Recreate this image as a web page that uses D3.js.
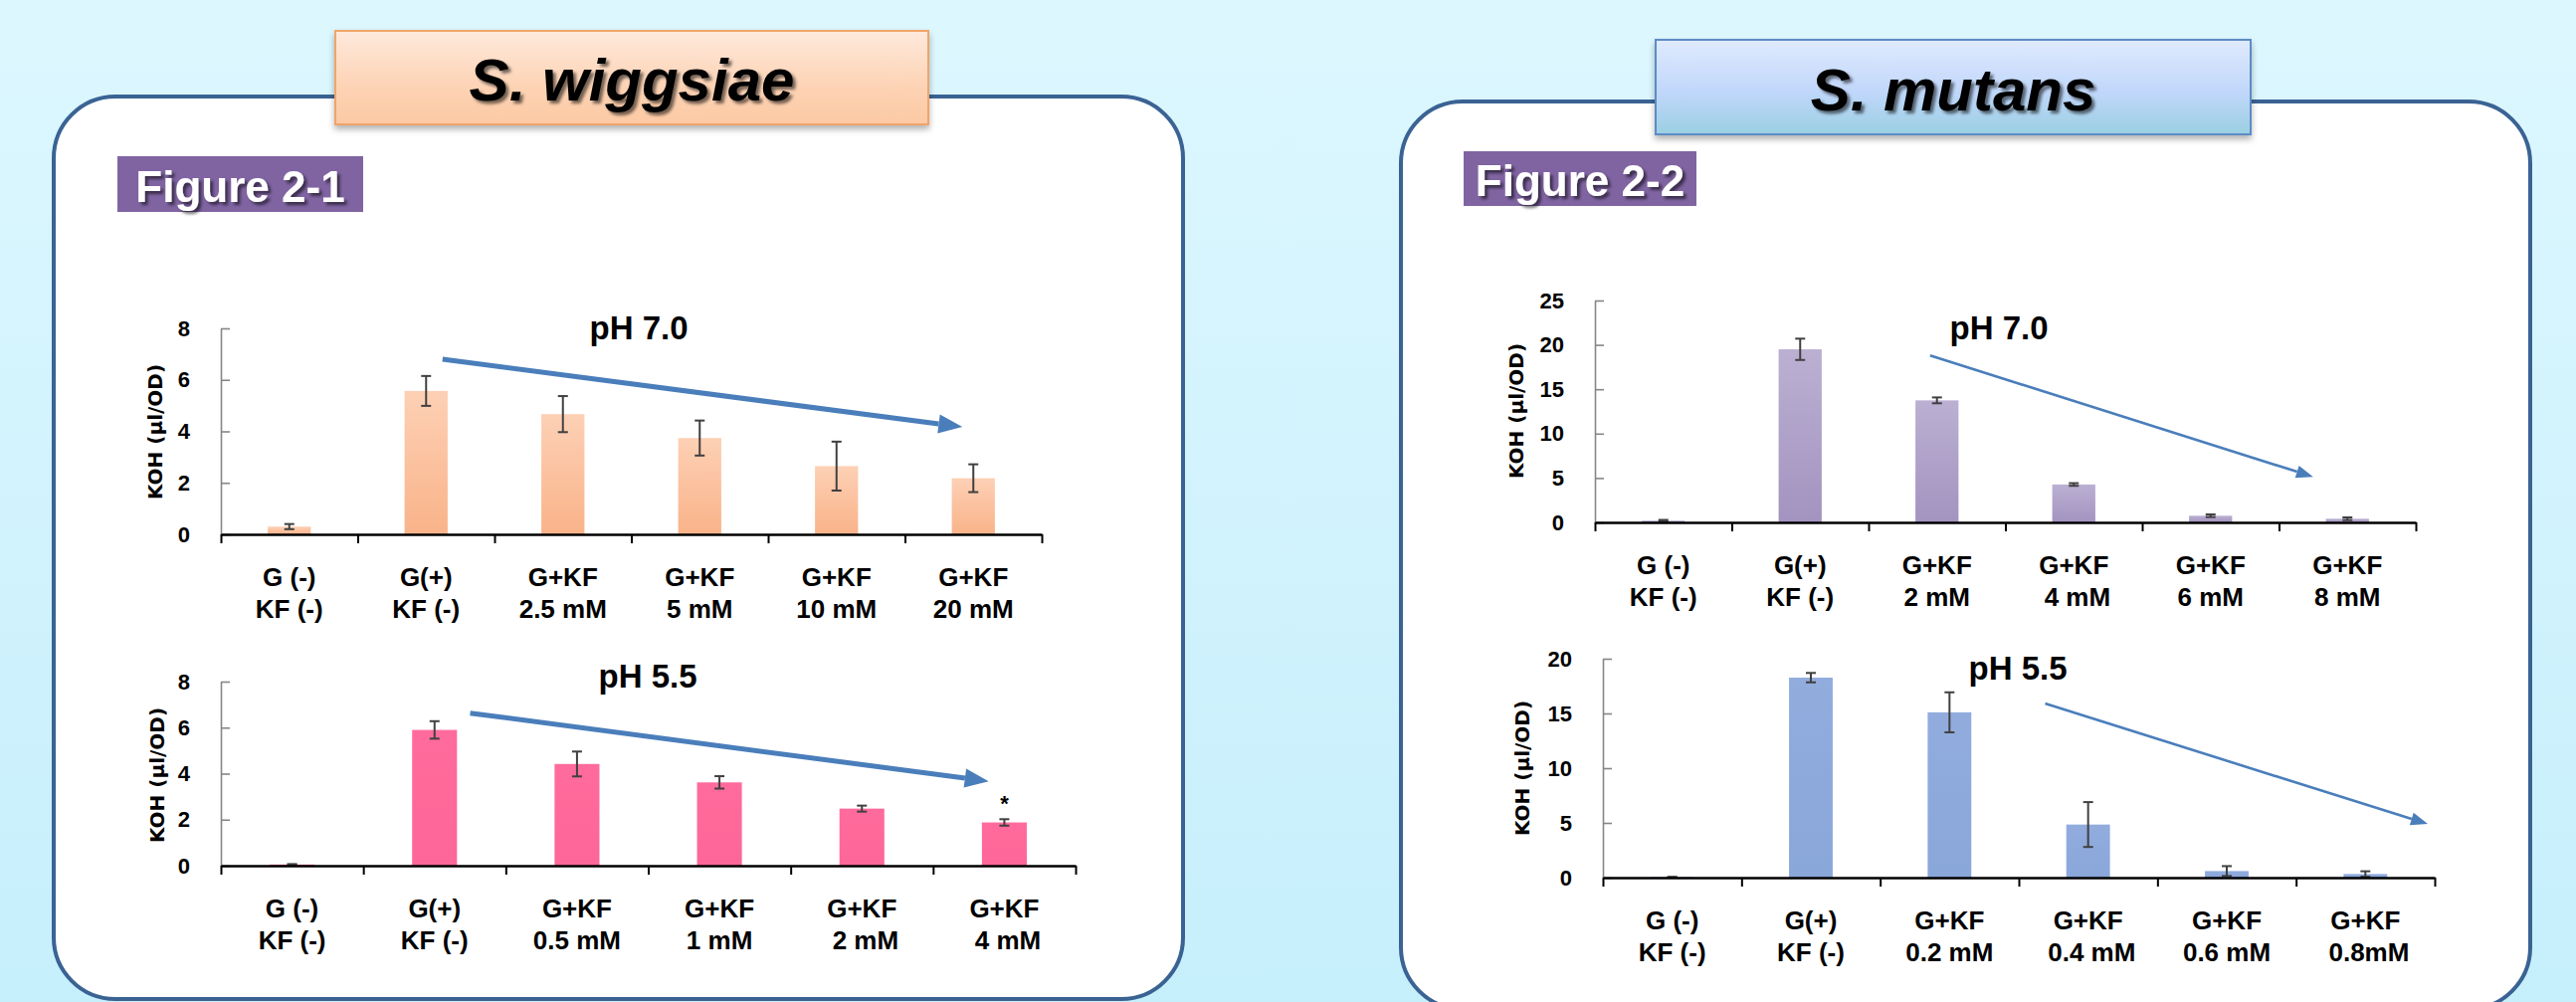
<!DOCTYPE html>
<html lang="en">
<head>
<meta charset="UTF-8">
<title>KOH production - S. wiggsiae / S. mutans</title>
<script src="https://d3js.org/d3.v7.min.js"></script>
<style>
    body, html { margin: 0; padding: 0; overflow: hidden; }
    svg { display: block; }
    text { font-family: 'Liberation Sans', Arial, sans-serif; font-weight: bold; }
    .cat { white-space: pre; }
</style>
</head>
<body>
<svg id="chart" width="2589" height="1007"></svg>
<script>
// ---- data ----
const labelsW70 = [["G (-)", "KF (-)"], ["G(+)", "KF (-)"], ["G+KF", "2.5 mM"], ["G+KF", "5 mM"], ["G+KF", "10 mM"], ["G+KF", "20 mM"]];
const valuesW70 = [0.3, 5.57, 4.67, 3.74, 2.65, 2.18];
const errorsW70 = [0.1, 0.58, 0.7, 0.68, 0.95, 0.54];

const labelsW55 = [["G (-)", "KF (-)"], ["G(+)", "KF (-)"], ["G+KF", "0.5 mM"], ["G+KF", "1 mM"], ["G+KF", " 2 mM"], ["G+KF", " 4 mM"]];
const valuesW55 = [0.05, 5.9, 4.42, 3.62, 2.48, 1.88];
const errorsW55 = [0.02, 0.38, 0.54, 0.27, 0.13, 0.14];

const labelsM70 = [["G (-)", "KF (-)"], ["G(+)", "KF (-)"], ["G+KF", "2 mM"], ["G+KF", " 4 mM"], ["G+KF", "6 mM"], ["G+KF", "8 mM"]];
const valuesM70 = [0.2, 19.5, 13.75, 4.27, 0.75, 0.41];
const errorsM70 = [0.08, 1.2, 0.33, 0.15, 0.15, 0.15];

const labelsM55 = [["G (-)", "KF (-)"], ["G(+)", "KF (-)"], ["G+KF", "0.2 mM"], ["G+KF", " 0.4 mM"], ["G+KF", "0.6 mM"], ["G+KF", " 0.8mM"]];
const valuesM55 = [0.05, 18.27, 15.1, 4.85, 0.6, 0.33];
const errorsM55 = [0.02, 0.43, 1.83, 2.05, 0.45, 0.25];

const ticksW = [0, 2, 4, 6, 8];
const ticksM70 = [0, 5, 10, 15, 20, 25];
const ticksM55 = [0, 5, 10, 15, 20];

// trend arrows: [category, offset in bands, value]
const arrowW70 = [[1, 0.12, 6.8], [5, -0.08, 4.17]];
const arrowW55 = [[1, 0.25, 6.63], [5, -0.11, 3.67]];
const arrowM70 = [[2, -0.05, 18.8], [5, -0.25, 5.13]];
const arrowM55 = [[3, -0.31, 15.9], [5, 0.45, 4.9]];

const starW55 = [5, 2.38]; // "*" over 4 mM

const svg = d3.select('#chart');
const defs = svg.append('defs');

function vGrad(id, stops) {
    const g = defs.append('linearGradient').attr('id', id)
        .attr('x1', 0).attr('y1', 0).attr('x2', 0).attr('y2', 1);
    stops.forEach(s => g.append('stop').attr('offset', s[0]).attr('stop-color', s[1]));
}
vGrad('bg', [[0, '#ddf7fe'], [1, '#c6effc']]);
vGrad('orange', [[0, '#fdd0b5'], [1, '#f9b389']]);
vGrad('pink', [[0, '#ff6b9c'], [1, '#fd6698']]);
vGrad('purple', [[0, '#bbb0d2'], [1, '#a393c0']]);
vGrad('blue', [[0, '#91acdd'], [1, '#8aa7da']]);
vGrad('peachBox', [[0, '#fee9dc'], [0.6, '#fdd3b5'], [1, '#fcc9a3']]);
vGrad('blueBox', [[0, '#e0eafd'], [0.55, '#c0d7fb'], [1, '#9bcfe2']]);

const txtShadow = defs.append('filter').attr('id', 'txtShadow')
    .attr('x', '-10%').attr('y', '-20%').attr('width', '130%').attr('height', '150%');
txtShadow.append('feDropShadow').attr('dx', 3).attr('dy', 3).attr('stdDeviation', 1.8)
    .attr('flood-color', '#000').attr('flood-opacity', 0.55);
const boxShadow = defs.append('filter').attr('id', 'boxShadow')
    .attr('x', '-5%').attr('y', '-10%').attr('width', '110%').attr('height', '130%');
boxShadow.append('feDropShadow').attr('dx', 0).attr('dy', 4).attr('stdDeviation', 3)
    .attr('flood-color', '#000').attr('flood-opacity', 0.3);

// background + panels
svg.append('rect').attr('width', 2589).attr('height', 1007).attr('fill', 'url(#bg)');
svg.append('rect').attr('x', 54).attr('y', 97).attr('width', 1135).attr('height', 907)
    .attr('rx', 62).attr('fill', '#fff').attr('stroke', '#3a6394').attr('stroke-width', 4);
svg.append('rect').attr('x', 1408).attr('y', 102).attr('width', 1135).attr('height', 912)
    .attr('rx', 62).attr('fill', '#fff').attr('stroke', '#3a6394').attr('stroke-width', 4);

// species title boxes
function titleBox(x, y, w, h, fill, stroke, label) {
    svg.append('rect').attr('x', x).attr('y', y).attr('width', w).attr('height', h)
        .attr('fill', fill).attr('stroke', stroke).attr('stroke-width', 2)
        .attr('filter', 'url(#boxShadow)');
    svg.append('text').attr('x', x + w / 2).attr('y', y + h / 2 + 23)
        .attr('text-anchor', 'middle').style('font-size', '60px').style('font-style', 'italic')
        .attr('fill', '#000').attr('filter', 'url(#txtShadow)').text(label);
}
titleBox(337, 31, 596, 94, 'url(#peachBox)', '#f1a46a', 'S. wiggsiae');
titleBox(1664, 40, 598, 95, 'url(#blueBox)', '#5b8cc6', 'S. mutans');

function figTag(x, y, w, h, label) {
    svg.append('rect').attr('x', x).attr('y', y).attr('width', w).attr('height', h).attr('fill', '#8064a2');
    svg.append('text').attr('x', x + w / 2).attr('y', y + h - 10).attr('text-anchor', 'middle')
        .style('font-size', '44px').attr('fill', '#fff').attr('filter', 'url(#txtShadow)').text(label);
}
figTag(118, 157, 247, 56, 'Figure 2-1');
figTag(1471, 152, 234, 55, 'Figure 2-2');

// ---- bar charts ----
const charts = [
    { labels: labelsW70, values: valuesW70, errors: errorsW70, ticks: ticksW, fill: 'url(#orange)',
      x0: 222, x1: 1047, yTop: 330, yZero: 537, title: 'pH 7.0', tx: 642, ty: 341,
      ytx: 156, yty: 434, arrow: arrowW70, thick: true },
    { labels: labelsW55, values: valuesW55, errors: errorsW55, ticks: ticksW, fill: 'url(#pink)',
      x0: 222, x1: 1081, yTop: 685, yZero: 870, title: 'pH 5.5', tx: 651, ty: 691,
      ytx: 158, yty: 779, arrow: arrowW55, thick: true, star: starW55 },
    { labels: labelsM70, values: valuesM70, errors: errorsM70, ticks: ticksM70, fill: 'url(#purple)',
      x0: 1603, x1: 2428, yTop: 302, yZero: 525, title: 'pH 7.0', tx: 2009, ty: 341,
      ytx: 1524, yty: 413, arrow: arrowM70, thick: false },
    { labels: labelsM55, values: valuesM55, errors: errorsM55, ticks: ticksM55, fill: 'url(#blue)',
      x0: 1611, x1: 2447, yTop: 662, yZero: 882, title: 'pH 5.5', tx: 2028, ty: 683,
      ytx: 1530, yty: 772, arrow: arrowM55, thick: false }
];

function drawArrow(g, x1, y1, x2, y2, w, headL, headW) {
    const a = Math.atan2(y2 - y1, x2 - x1);
    const bx = x2 - headL * Math.cos(a), by = y2 - headL * Math.sin(a);
    g.append('line').attr('x1', x1).attr('y1', y1).attr('x2', bx).attr('y2', by)
        .attr('stroke', '#4a7ebb').attr('stroke-width', w);
    const nx = -Math.sin(a) * headW / 2, ny = Math.cos(a) * headW / 2;
    g.append('polygon')
        .attr('points', [[x2, y2], [bx + nx, by + ny], [bx - nx, by - ny]].map(p => p.join(',')).join(' '))
        .attr('fill', '#4a7ebb');
}

charts.forEach(c => {
    const g = svg.append('g');
    const n = c.values.length;
    const x = d3.scaleBand().domain(d3.range(n)).range([c.x0, c.x1]);
    const xEdge = d3.scaleLinear().domain([0, n]).range([c.x0, c.x1]);
    const yMax = c.ticks[c.ticks.length - 1];
    const y = d3.scaleLinear().domain([0, yMax]).range([c.yZero, c.yTop]);
    const bw = x.bandwidth() * 0.315;

    // y axis (grey, inside ticks)
    const ya = g.append('g').attr('transform', `translate(${c.x0},0)`)
        .call(d3.axisLeft(y).tickValues(c.ticks).tickSizeInner(-9).tickSizeOuter(0).tickPadding(31));
    ya.select('.domain').attr('stroke', '#868686').attr('stroke-width', 1.6);
    ya.selectAll('.tick line').attr('stroke', '#868686').attr('stroke-width', 1.6);
    ya.selectAll('.tick text').attr('fill', '#000')
        .style('font-family', "'Liberation Sans', Arial, sans-serif").style('font-weight', 'bold')
        .style('font-size', '22px');

    // bars
    g.selectAll('rect.bar').data(c.values).join('rect').attr('class', 'bar')
        .attr('x', (d, i) => x(i) + x.bandwidth() / 2 - bw / 2)
        .attr('y', d => y(d))
        .attr('width', bw)
        .attr('height', d => y(0) - y(d))
        .attr('fill', c.fill);

    // error bars
    c.values.forEach((v, i) => {
        const cx = x(i) + x.bandwidth() / 2;
        const hi = y(v + c.errors[i]), lo = y(Math.max(0, v - c.errors[i]));
        const eb = g.append('g').attr('stroke', '#404040').attr('stroke-width', 2);
        eb.append('line').attr('x1', cx).attr('x2', cx).attr('y1', hi).attr('y2', lo);
        eb.append('line').attr('x1', cx - 5).attr('x2', cx + 5).attr('y1', hi).attr('y2', hi);
        eb.append('line').attr('x1', cx - 5).attr('x2', cx + 5).attr('y1', lo).attr('y2', lo);
    });

    // x axis (black, outside ticks at band edges)
    const xa = g.append('g').attr('transform', `translate(0,${c.yZero})`)
        .call(d3.axisBottom(xEdge).tickValues(d3.range(n + 1)).tickSize(9).tickSizeOuter(0).tickFormat(''));
    xa.select('.domain').attr('stroke', '#000').attr('stroke-width', 2.6);
    xa.selectAll('.tick line').attr('stroke', '#000').attr('stroke-width', 2);

    // category labels (two lines)
    c.labels.forEach((lab, i) => {
        const t = g.append('text').attr('class', 'cat').attr('text-anchor', 'middle')
            .style('font-size', '26px').attr('fill', '#000');
        lab.forEach((line, k) => {
            t.append('tspan').attr('x', x(i) + x.bandwidth() / 2)
                .attr('y', c.yZero + 52 + k * 32).text(line);
        });
    });

    // chart title and y-axis title
    g.append('text').attr('x', c.tx).attr('y', c.ty).attr('text-anchor', 'middle')
        .style('font-size', '33px').text(c.title);
    g.append('text').attr('transform', `translate(${c.ytx},${c.yty}) rotate(-90)`)
        .attr('text-anchor', 'middle').attr('dy', '0.35em')
        .style('font-family', "'DejaVu Sans', Verdana, sans-serif").style('font-size', '20px')
        .text('KOH (µl/OD)');

    // trend arrow
    const [s, e] = c.arrow;
    const px = p => x(p[0]) + x.bandwidth() * (0.5 + p[1]);
    if (c.thick) drawArrow(g, px(s), y(s[2]), px(e), y(e[2]), 5, 24, 19);
    else drawArrow(g, px(s), y(s[2]), px(e), y(e[2]), 2.6, 17, 13);

    if (c.star) {
        g.append('text').attr('x', x(c.star[0]) + x.bandwidth() / 2).attr('y', y(c.star[1]))
            .attr('text-anchor', 'middle').style('font-size', '22px').text('*');
    }
});
</script>
</body>
</html>
